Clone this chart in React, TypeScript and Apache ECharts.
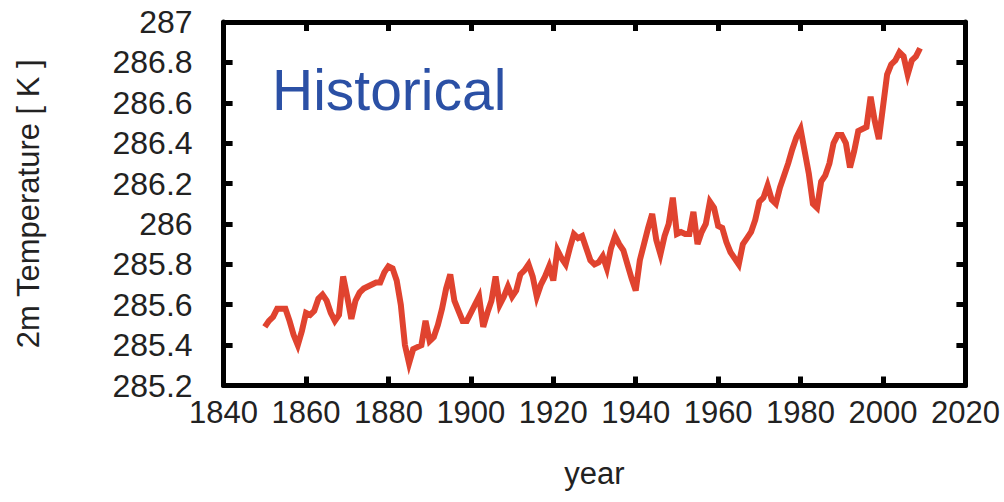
import React, { useEffect, useRef } from "react";
import * as echarts from "echarts";

const years: number[] = [];
for (let y = 1850; y <= 2009; y++) years.push(y);

const temps: number[] = [
  285.49, 285.52, 285.54, 285.58, 285.58, 285.58, 285.52, 285.45, 285.40, 285.47,
  285.56, 285.55, 285.57, 285.63, 285.65, 285.62, 285.56, 285.52, 285.55, 285.74,
  285.64, 285.53, 285.62, 285.66, 285.68, 285.69, 285.70, 285.71, 285.71, 285.76,
  285.79, 285.78, 285.72, 285.60, 285.40, 285.31, 285.38, 285.39, 285.40, 285.52,
  285.42, 285.44, 285.50, 285.58, 285.68, 285.75, 285.62, 285.57, 285.52, 285.52,
  285.56, 285.60, 285.64, 285.49, 285.56, 285.62, 285.74, 285.60, 285.64, 285.69,
  285.64, 285.67, 285.75, 285.77, 285.80, 285.74, 285.64, 285.70, 285.74, 285.79,
  285.72, 285.87, 285.83, 285.80, 285.88, 285.95, 285.93, 285.94, 285.88, 285.82,
  285.80, 285.81, 285.84, 285.78, 285.88, 285.94, 285.90, 285.87, 285.80, 285.73,
  285.67, 285.82, 285.90, 285.98, 286.05, 285.92, 285.85, 285.94, 286.00, 286.13,
  285.95, 285.96, 285.95, 285.95, 286.06, 285.90, 285.96, 286.00, 286.11, 286.08,
  285.99, 285.98, 285.91, 285.86, 285.83, 285.80, 285.90, 285.93, 285.96, 286.02,
  286.11, 286.13, 286.19, 286.12, 286.10, 286.18, 286.24, 286.30, 286.37, 286.43,
  286.47, 286.36, 286.25, 286.10, 286.08, 286.21, 286.24, 286.30, 286.40, 286.44,
  286.44, 286.40, 286.28, 286.36, 286.46, 286.47, 286.48, 286.63, 286.51, 286.42,
  286.58, 286.74, 286.79, 286.81, 286.85, 286.83, 286.74, 286.81, 286.83, 286.87,
];

const X_MIN = 1840;
const X_MAX = 2020;
const X_STEP = 20;
const Y_MIN = 285.2;
const Y_MAX = 287;
const Y_STEP = 0.2;

const TITLE = "Historical";
const Y_NAME = "2m Temperature [ K ]";
const X_NAME = "year";

export default function App() {
  const ref = useRef<HTMLDivElement>(null);
  useEffect(() => {
    if (!ref.current) return;
    const chart = echarts.init(ref.current, undefined, { renderer: "svg" });
    const font = "Liberation Sans, Arial, sans-serif";
    const line = { show: true, onZero: false, lineStyle: { color: "#000", width: 5 } };
    const tick = { show: true, inside: true, length: 9, lineStyle: { color: "#000", width: 5 } };
    const xCommon = { type: "value", min: X_MIN, max: X_MAX, interval: X_STEP, splitLine: { show: false }, axisLine: line, axisTick: tick };
    const yCommon = { type: "value", min: Y_MIN, max: Y_MAX, interval: Y_STEP, splitLine: { show: false }, axisLine: line, axisTick: tick };
    chart.setOption({
      animation: false,
      backgroundColor: "#fff",
      grid: { left: 223.6, right: 38.6, top: 22, bottom: 116.5, containLabel: false },
      xAxis: [
        {
          ...xCommon,
          position: "bottom",
          name: X_NAME,
          nameLocation: "middle",
          nameGap: 72,
          nameTextStyle: { fontSize: 31, color: "#222", fontFamily: font },
          axisLabel: { fontSize: 31, color: "#222", fontFamily: font, margin: 11, formatter: (v: number) => String(v) },
        },
        { ...xCommon, position: "top", axisLabel: { show: false } },
      ],
      yAxis: [
        {
          ...yCommon,
          position: "left",
          name: Y_NAME,
          nameLocation: "middle",
          nameGap: 180,
          nameTextStyle: { fontSize: 31, color: "#222", fontFamily: font },
          axisLabel: {
            fontSize: 32, color: "#222", fontFamily: font, margin: 31,
            formatter: (v: number) => String(+v.toFixed(1)),
          },
        },
        { ...yCommon, position: "right", axisLabel: { show: false } },
      ],
      graphic: [
        {
          type: "text",
          left: 272,
          top: 61,
          style: { text: TITLE, fontSize: 57, fill: "#2b50a5", fontFamily: font },
        },
      ],
      series: [
        {
          type: "line",
          xAxisIndex: 0,
          yAxisIndex: 0,
          data: years.map((y, i) => [y, temps[i]]),
          showSymbol: false,
          symbol: "none",
          lineStyle: { color: "#e0432f", width: 6, join: "miter" },
        },
      ],
    });
    return () => chart.dispose();
  }, []);
  return <div ref={ref} style={{ position: "fixed", left: 0, top: 0, width: 1004, height: 502 }} />;
}
